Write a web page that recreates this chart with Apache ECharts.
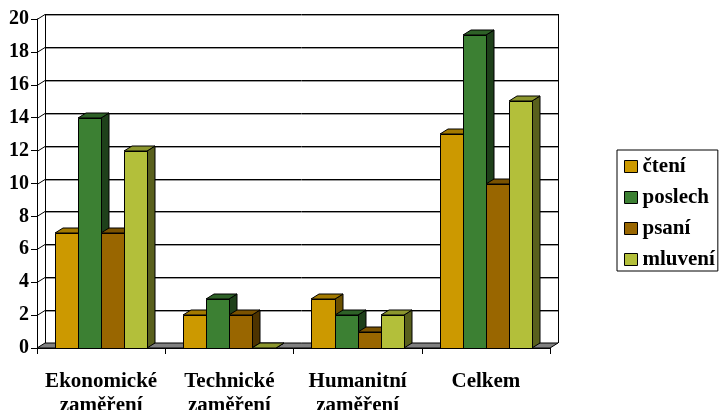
<!DOCTYPE html>
<html>
<head>
<meta charset="utf-8">
<script src="https://cdn.jsdelivr.net/npm/echarts@6/dist/echarts.min.js"></script>
<style>
  html, body { margin: 0; padding: 0; background: #fff; }
  #chart { width: 721px; height: 410px; }
</style>
</head>
<body>
<div id="chart"></div>
<script>
// Category labels along the floor
const categories = ['Ekonomické\nzaměření', 'Technické\nzaměření', 'Humanitní\nzaměření', 'Celkem'];

// Series values per category
const cteni   = [7, 2, 3, 13];
const poslech = [14, 3, 2, 19];
const psani   = [7, 2, 1, 10];
const mluveni = [12, 0, 2, 15];

// Value axis range
const yMin = 0, yMax = 20, yStep = 2;

const seriesNames = ['čtení', 'poslech', 'psaní', 'mluvení'];
const seriesValues = [cteni, poslech, psani, mluveni];

// Face colours: front, top, side
const palette = [
  { front: '#CC9900', top: '#A37A00', side: '#6B5000' },
  { front: '#3C8033', top: '#2E6127', side: '#1E401A' },
  { front: '#996600', top: '#7A5200', side: '#4D3300' },
  { front: '#B3BF3A', top: '#8C962E', side: '#59601D' }
];

// Pseudo-3D depth offset (pixels)
const DX = 8, DY = 5;
const BAR_FRAC = 0.18;
const FONT = 'Liberation Serif';

const chart = echarts.init(document.getElementById('chart'), null, { renderer: 'canvas' });

// Back wall, left wall and floor
function wallsRender(params, api) {
  const cs = params.coordSys;
  const x0 = cs.x, x1 = cs.x + cs.width;
  const children = [];
  const yBase = api.coord([0, yMin])[1];
  const yTop = api.coord([0, yMax])[1];
  // floor
  children.push({
    type: 'polygon',
    shape: { points: [[x0, yBase], [x1, yBase], [x1 + DX, yBase - DY], [x0 + DX, yBase - DY]] },
    style: { fill: '#808080', stroke: '#000', lineWidth: 1 }
  });
  // gridlines on back wall and left wall
  for (let v = yMin + yStep; v <= yMax; v += yStep) {
    const y = Math.round(api.coord([0, v])[1]) + 0.5;
    children.push({
      type: 'line',
      shape: { x1: x0 + DX, y1: y - DY + 1, x2: x1 + DX, y2: y - DY + 1 },
      style: { stroke: '#9a9a9a', lineWidth: 1 }
    });
    children.push({
      type: 'line',
      shape: { x1: x0 + DX, y1: y - DY, x2: x1 + DX, y2: y - DY },
      style: { stroke: '#000', lineWidth: 1 }
    });
    children.push({
      type: 'line',
      shape: { x1: x0, y1: y, x2: x0 + DX, y2: y - DY },
      style: { stroke: '#000', lineWidth: 1 }
    });
  }
  // wall edges
  children.push({
    type: 'line',
    shape: { x1: x0 + DX + 0.5, y1: yTop - DY, x2: x0 + DX + 0.5, y2: yBase - DY },
    style: { stroke: '#000', lineWidth: 1 }
  });
  children.push({
    type: 'line',
    shape: { x1: x1 + DX + 0.5, y1: yTop - DY, x2: x1 + DX + 0.5, y2: yBase - DY },
    style: { stroke: '#000', lineWidth: 1 }
  });
  return { type: 'group', children: children };
}

// A box-shaped column: front face, top face and right side
function makeBarRender(si) {
  const c = palette[si];
  return function (params, api) {
    const cat = api.value(0);
    const val = api.value(1);
    const base = api.coord([cat, 0]);
    const top = api.coord([cat, val]);
    const band = api.size([1, 0])[0];
    const w = band * BAR_FRAC;
    const xa = Math.round(base[0] - 2 * w + si * w);
    const xb = Math.round(base[0] - 2 * w + (si + 1) * w);
    const yb = Math.round(base[1]);
    const yt = Math.round(top[1]);
    const stroke = { stroke: '#000', lineWidth: 1 };
    return {
      type: 'group',
      children: [
        {
          type: 'polygon',
          shape: { points: [[xb, yt], [xb + DX, yt - DY], [xb + DX, yb - DY], [xb, yb]] },
          style: Object.assign({ fill: c.side }, stroke)
        },
        {
          type: 'polygon',
          shape: { points: [[xa, yt], [xb, yt], [xb + DX, yt - DY], [xa + DX, yt - DY]] },
          style: Object.assign({ fill: c.top }, stroke)
        },
        {
          type: 'rect',
          shape: { x: xa + 0.5, y: yt + 0.5, width: xb - xa, height: yb - yt },
          style: Object.assign({ fill: c.front }, stroke)
        }
      ]
    };
  };
}

const series = [{
  type: 'custom',
  name: 'walls',
  renderItem: wallsRender,
  data: [[0, 0]],
  z: 1,
  silent: true
}];

seriesNames.forEach(function (name, si) {
  series.push({
    type: 'custom',
    name: name,
    renderItem: makeBarRender(si),
    encode: { x: 0, y: 1 },
    data: seriesValues[si].map(function (v, i) { return [i, v]; }),
    itemStyle: { color: palette[si].front, borderColor: '#000', borderWidth: 1 },
    z: 2
  });
});

chart.setOption({
  animation: false,
  backgroundColor: '#fff',
  textStyle: { fontFamily: FONT },
  grid: {
    left: 37, right: 171, top: 19, bottom: 62,
    containLabel: false,
    outerBoundsMode: 'none'
  },
  xAxis: {
    type: 'category',
    data: categories,
    boundaryGap: true,
    axisLine: { show: true, lineStyle: { color: '#000', width: 1 } },
    axisTick: { show: true, length: 6, lineStyle: { color: '#000' } },
    axisLabel: {
      interval: 0,
      margin: 22,
      color: '#000',
      fontFamily: FONT,
      fontWeight: 'bold',
      fontSize: 21,
      lineHeight: 24
    },
    splitLine: { show: false },
    z: 3
  },
  yAxis: {
    type: 'value',
    min: yMin,
    max: yMax,
    interval: yStep,
    axisLine: { show: true, lineStyle: { color: '#000', width: 1 } },
    axisTick: { show: true, length: 6, lineStyle: { color: '#000' } },
    axisLabel: {
      margin: 8,
      color: '#000',
      fontFamily: FONT,
      fontWeight: 'bold',
      fontSize: 20
    },
    splitLine: { show: false }
  },
  legend: {
    data: seriesNames,
    orient: 'vertical',
    left: 617,
    top: 150,
    icon: 'rect',
    itemWidth: 13,
    itemHeight: 12,
    itemGap: 10,
    padding: [6, 3, 1, 7],
    borderColor: '#000',
    borderWidth: 1,
    itemStyle: { borderColor: '#000', borderWidth: 1 },
    textStyle: {
      color: '#000',
      fontFamily: FONT,
      fontWeight: 'bold',
      fontSize: 21,
      padding: [0, 0, 0, 0]
    }
  },
  series: series
});
</script>
</body>
</html>
